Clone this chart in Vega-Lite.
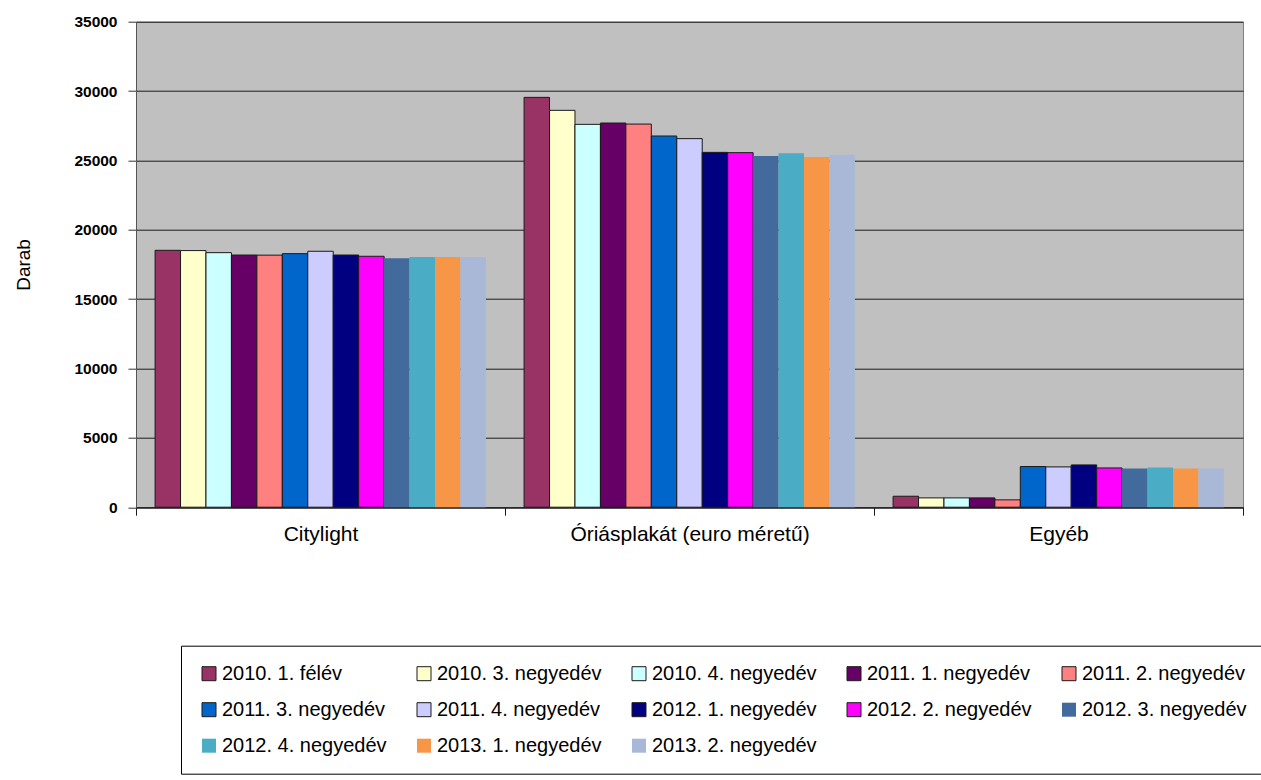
{
  "$schema": "https://vega.github.io/schema/vega-lite/v6.json",
  "autosize": "none",
  "width": 1107,
  "height": 485.5,
  "padding": {"left": 136, "top": 21.7, "right": 18, "bottom": 272.8},
  "background": "white",
  "view": {"fill": "#C0C0C0", "stroke": "#808080", "strokeWidth": 1},
  "config": {
    "font": "Liberation Sans"
  },
  "data": {
    "values": [
      {"kategoria": "Citylight", "idoszak": "2010. 1. félév", "darab": 18520},
      {"kategoria": "Citylight", "idoszak": "2010. 3. negyedév", "darab": 18500},
      {"kategoria": "Citylight", "idoszak": "2010. 4. negyedév", "darab": 18350},
      {"kategoria": "Citylight", "idoszak": "2011. 1. negyedév", "darab": 18180},
      {"kategoria": "Citylight", "idoszak": "2011. 2. negyedév", "darab": 18170},
      {"kategoria": "Citylight", "idoszak": "2011. 3. negyedév", "darab": 18280},
      {"kategoria": "Citylight", "idoszak": "2011. 4. negyedév", "darab": 18450},
      {"kategoria": "Citylight", "idoszak": "2012. 1. negyedév", "darab": 18180},
      {"kategoria": "Citylight", "idoszak": "2012. 2. negyedév", "darab": 18090},
      {"kategoria": "Citylight", "idoszak": "2012. 3. negyedév", "darab": 17940},
      {"kategoria": "Citylight", "idoszak": "2012. 4. negyedév", "darab": 18040},
      {"kategoria": "Citylight", "idoszak": "2013. 1. negyedév", "darab": 18040},
      {"kategoria": "Citylight", "idoszak": "2013. 2. negyedév", "darab": 18040},
      {"kategoria": "Óriásplakát (euro méretű)", "idoszak": "2010. 1. félév", "darab": 29545},
      {"kategoria": "Óriásplakát (euro méretű)", "idoszak": "2010. 3. negyedév", "darab": 28610},
      {"kategoria": "Óriásplakát (euro méretű)", "idoszak": "2010. 4. negyedév", "darab": 27600},
      {"kategoria": "Óriásplakát (euro méretű)", "idoszak": "2011. 1. negyedév", "darab": 27695},
      {"kategoria": "Óriásplakát (euro méretű)", "idoszak": "2011. 2. negyedév", "darab": 27620},
      {"kategoria": "Óriásplakát (euro méretű)", "idoszak": "2011. 3. negyedév", "darab": 26760},
      {"kategoria": "Óriásplakát (euro méretű)", "idoszak": "2011. 4. negyedév", "darab": 26570},
      {"kategoria": "Óriásplakát (euro méretű)", "idoszak": "2012. 1. negyedév", "darab": 25580},
      {"kategoria": "Óriásplakát (euro méretű)", "idoszak": "2012. 2. negyedév", "darab": 25560},
      {"kategoria": "Óriásplakát (euro méretű)", "idoszak": "2012. 3. negyedév", "darab": 25315},
      {"kategoria": "Óriásplakát (euro méretű)", "idoszak": "2012. 4. negyedév", "darab": 25510},
      {"kategoria": "Óriásplakát (euro méretű)", "idoszak": "2013. 1. negyedév", "darab": 25245},
      {"kategoria": "Óriásplakát (euro méretű)", "idoszak": "2013. 2. negyedév", "darab": 25415},
      {"kategoria": "Egyéb", "idoszak": "2010. 1. félév", "darab": 790},
      {"kategoria": "Egyéb", "idoszak": "2010. 3. negyedév", "darab": 670},
      {"kategoria": "Egyéb", "idoszak": "2010. 4. negyedév", "darab": 670},
      {"kategoria": "Egyéb", "idoszak": "2011. 1. negyedév", "darab": 670},
      {"kategoria": "Egyéb", "idoszak": "2011. 2. negyedév", "darab": 530},
      {"kategoria": "Egyéb", "idoszak": "2011. 3. negyedév", "darab": 2930},
      {"kategoria": "Egyéb", "idoszak": "2011. 4. negyedév", "darab": 2905},
      {"kategoria": "Egyéb", "idoszak": "2012. 1. negyedév", "darab": 3050},
      {"kategoria": "Egyéb", "idoszak": "2012. 2. negyedév", "darab": 2830},
      {"kategoria": "Egyéb", "idoszak": "2012. 3. negyedév", "darab": 2785},
      {"kategoria": "Egyéb", "idoszak": "2012. 4. negyedév", "darab": 2860},
      {"kategoria": "Egyéb", "idoszak": "2013. 1. negyedév", "darab": 2785},
      {"kategoria": "Egyéb", "idoszak": "2013. 2. negyedév", "darab": 2785}
    ]
  },
  "mark": {"type": "bar", "stroke": "#1a1a1a", "strokeWidth": 1},
  "encoding": {
    "x": {
      "field": "kategoria",
      "type": "nominal",
      "sort": ["Citylight", "Óriásplakát (euro méretű)", "Egyéb"],
      "scale": {"paddingInner": 0, "paddingOuter": 0},
      "axis": {
        "title": null,
        "labelAngle": 0,
        "labelFont": "Liberation Sans",
        "labelFontSize": 21,
        "labelColor": "#000000",
        "labelPadding": 8,
        "labelLimit": 0,
        "tickBand": "extent",
        "tickSize": 8,
        "tickColor": "#1a1a1a",
        "domainColor": "#1a1a1a",
        "grid": false
      }
    },
    "xOffset": {
      "field": "idoszak",
      "type": "nominal",
      "sort": null,
      "scale": {"paddingInner": 0, "paddingOuter": 0.75}
    },
    "y": {
      "field": "darab",
      "type": "quantitative",
      "scale": {"domain": [0, 35000], "nice": false},
      "axis": {
        "title": "Darab",
        "titleFont": "Liberation Sans",
        "titleFontSize": 19,
        "titleFontWeight": "normal",
        "titleColor": "#000000",
        "titlePadding": 40,
        "values": [0, 5000, 10000, 15000, 20000, 25000, 30000, 35000],
        "format": "d",
        "labelFont": "Liberation Sans",
        "labelFontSize": 15.5,
        "labelFontWeight": "bold",
        "labelColor": "#000000",
        "labelPadding": 11,
        "tickSize": 8,
        "tickColor": "#333333",
        "domainColor": "#555555",
        "grid": true,
        "gridColor": "#000000",
        "gridWidth": 1,
        "gridOpacity": 0.85
      }
    },
    "color": {
      "field": "idoszak",
      "type": "nominal",
      "sort": null,
      "scale": {
        "domain": ["2010. 1. félév", "2010. 3. negyedév", "2010. 4. negyedév", "2011. 1. negyedév", "2011. 2. negyedév", "2011. 3. negyedév", "2011. 4. negyedév", "2012. 1. negyedév", "2012. 2. negyedév", "2012. 3. negyedév", "2012. 4. negyedév", "2013. 1. negyedév", "2013. 2. negyedév"],
        "range": ["#993366", "#FFFFCC", "#CCFFFF", "#660066", "#FF8080", "#0066CC", "#CCCCFF", "#000080", "#FF00FF", "#426A9C", "#4BACC6", "#F79646", "#A9B8D6"]
      },
      "legend": {
        "title": null,
        "orient": "none",
        "legendX": 45,
        "legendY": 624,
        "direction": "horizontal",
        "columns": 5,
        "columnPadding": 27,
        "rowPadding": 16,
        "padding": 18,
        "strokeColor": "#000000",
        "fillColor": "#FFFFFF",
        "symbolType": "square",
        "symbolSize": 196,
        "symbolStrokeWidth": 1,
        "symbolStrokeColor": "#1a1a1a",
        "symbolOpacity": 1,
        "labelFont": "Liberation Sans",
        "labelFontSize": 20,
        "labelColor": "#000000",
        "labelOffset": 3,
        "labelLimit": 400,
        "encode": {
          "symbols": {
            "update": {
              "stroke": {"signal": "indexof(['2012. 3. negyedév','2012. 4. negyedév','2013. 1. negyedév','2013. 2. negyedév'], datum.value) >= 0 ? 'transparent' : '#1a1a1a'"}
            }
          }
        }
      }
    },
    "strokeOpacity": {
      "condition": {
        "test": "indexof(['2012. 3. negyedév','2012. 4. negyedév','2013. 1. negyedév','2013. 2. negyedév'], datum.idoszak) >= 0",
        "value": 0
      },
      "value": 1
    }
  }
}
